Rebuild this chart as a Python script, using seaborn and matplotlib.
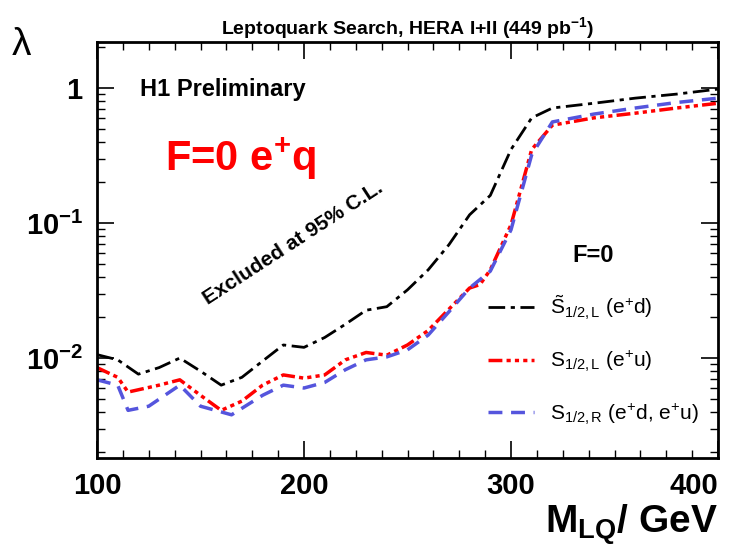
import numpy as np
import seaborn as sns
import matplotlib
matplotlib.use("Agg")
import matplotlib.pyplot as plt
from matplotlib.ticker import LogLocator, NullFormatter, FixedLocator

# masses (GeV) and coupling limits
mass_black = [100, 110, 120, 130, 140, 150, 160, 170, 180, 190, 200, 210, 220, 230, 240, 250, 260, 270, 280, 290, 300, 310, 320, 340, 360, 380, 400]
lam_black = [0.0106, 0.0097, 0.0076, 0.0085, 0.0100, 0.0080, 0.0063, 0.0072, 0.0095, 0.0125, 0.0120, 0.0142, 0.0178, 0.0226, 0.0240, 0.032, 0.045, 0.069, 0.115, 0.16, 0.35, 0.60, 0.71, 0.77, 0.84, 0.90, 0.98]

mass_red = [100, 110, 115, 130, 140, 150, 160, 170, 180, 190, 200, 210, 220, 230, 240, 250, 260, 270, 280, 285, 290, 300, 310, 320, 340, 360, 380, 400]
lam_red = [0.0085, 0.0072, 0.0056, 0.0063, 0.0069, 0.0053, 0.0041, 0.0048, 0.0063, 0.0075, 0.0071, 0.0075, 0.0097, 0.0110, 0.0105, 0.0125, 0.016, 0.023, 0.033, 0.035, 0.045, 0.097, 0.35, 0.53, 0.60, 0.65, 0.71, 0.77]

mass_blue = [100, 110, 115, 125, 140, 150, 165, 180, 190, 200, 210, 220, 230, 240, 250, 260, 270, 280, 290, 300, 310, 320, 340, 360, 380, 400]
lam_blue = [0.0069, 0.0063, 0.0041, 0.0044, 0.0063, 0.0044, 0.0038, 0.0053, 0.0063, 0.0060, 0.0066, 0.0082, 0.0097, 0.0102, 0.0115, 0.0148, 0.022, 0.033, 0.044, 0.089, 0.32, 0.56, 0.64, 0.71, 0.78, 0.84]

sns.set_style("ticks")
plt.rcParams['font.family'] = ['Liberation Sans', 'DejaVu Sans']
plt.rcParams['mathtext.fontset'] = 'custom'
plt.rcParams['mathtext.rm'] = 'Liberation Sans'
plt.rcParams['mathtext.it'] = 'Liberation Sans'
plt.rcParams['mathtext.bf'] = 'Liberation Sans:bold'
for k in ['text.color', 'axes.labelcolor', 'xtick.color', 'ytick.color', 'axes.edgecolor']:
    plt.rcParams[k] = 'black'

fig = plt.figure(figsize=(7.39, 5.48), dpi=100)
ax = fig.add_axes([97/739, 90/548, 621/739, 416/548])

sns.lineplot(x=mass_black, y=lam_black, ax=ax, color="black", lw=2,
             label=r"$\tilde{\mathrm{S}}_{1/2,L}$ (e$^{+}$d)")
sns.lineplot(x=mass_red, y=lam_red, ax=ax, color="red", lw=2.5,
             label=r"S$_{1/2,L}$ (e$^{+}$u)")
sns.lineplot(x=mass_blue, y=lam_blue, ax=ax, color="#5555dd", lw=2.5,
             label=r"S$_{1/2,R}$ (e$^{+}$d, e$^{+}$u)")
ax.lines[0].set_dashes([6, 2, 1.5, 2])
ax.lines[1].set_dashes([4, 1.2, 1.2, 1.2, 1.2, 1.2, 1.2, 1.2])
ax.lines[2].set_dashes([4, 2.5])

ax.set_yscale("log")
ax.set_xlim(100, 400)
ax.set_ylim(10**(-2.74), 10**0.34)
for s in ax.spines.values():
    s.set_linewidth(2)
ax.xaxis.set_major_locator(FixedLocator([100, 200, 300, 400]))
ax.xaxis.set_minor_locator(FixedLocator(np.arange(100, 400, 12.5)))
ax.yaxis.set_minor_locator(LogLocator(base=10, subs=np.arange(2, 10)))
ax.yaxis.set_minor_formatter(NullFormatter())
ax.tick_params(which="both", direction="in", top=True, right=True)
ax.tick_params(which="major", length=12, width=1.2, labelsize=21, pad=10)
ax.tick_params(which="minor", length=6, width=1)
ax.set_yticks([0.01, 0.1, 1])
ax.set_yticklabels([r"$\mathbf{10^{-2}}$", r"$\mathbf{10^{-1}}$", r"$\mathbf{1}$"])
for t in ax.get_xticklabels():
    t.set_fontweight("bold")
ax.get_xticklabels()[-1].set_horizontalalignment("right")

ax.set_xlabel(r"$\mathbf{M_{LQ}}$/ GeV", fontsize=28, fontweight="bold", loc="right", labelpad=2)
ax.set_ylabel("")
fig.text(22/739, 1 - 45/548, r"$\lambda$", fontsize=28, ha="center", va="center")
ax.set_title(r"Leptoquark Search, HERA I+II (449 pb$^{\mathbf{-1}}$)", fontsize=14, fontweight="bold", pad=6)

ax.text(0.07, 0.87, "H1 Preliminary", transform=ax.transAxes, fontsize=17, fontweight="bold")
ax.text(0.11, 0.69, r"F=0 e$^{\mathbf{+}}$q", transform=ax.transAxes, fontsize=30, fontweight="bold", color="red")
ax.text(0.165, 0.37, "Excluded at 95% C.L.", transform=ax.transAxes, fontsize=15, fontweight="bold", rotation=33)

leg = ax.legend(loc="lower right", bbox_to_anchor=(1.0, 0.03), frameon=False, fontsize=15,
                title="F=0", labelspacing=1.3, handlelength=2.2)
leg.get_title().set_fontsize(17)
leg.get_title().set_fontweight("bold")

fig.savefig("out.png", dpi=100)
